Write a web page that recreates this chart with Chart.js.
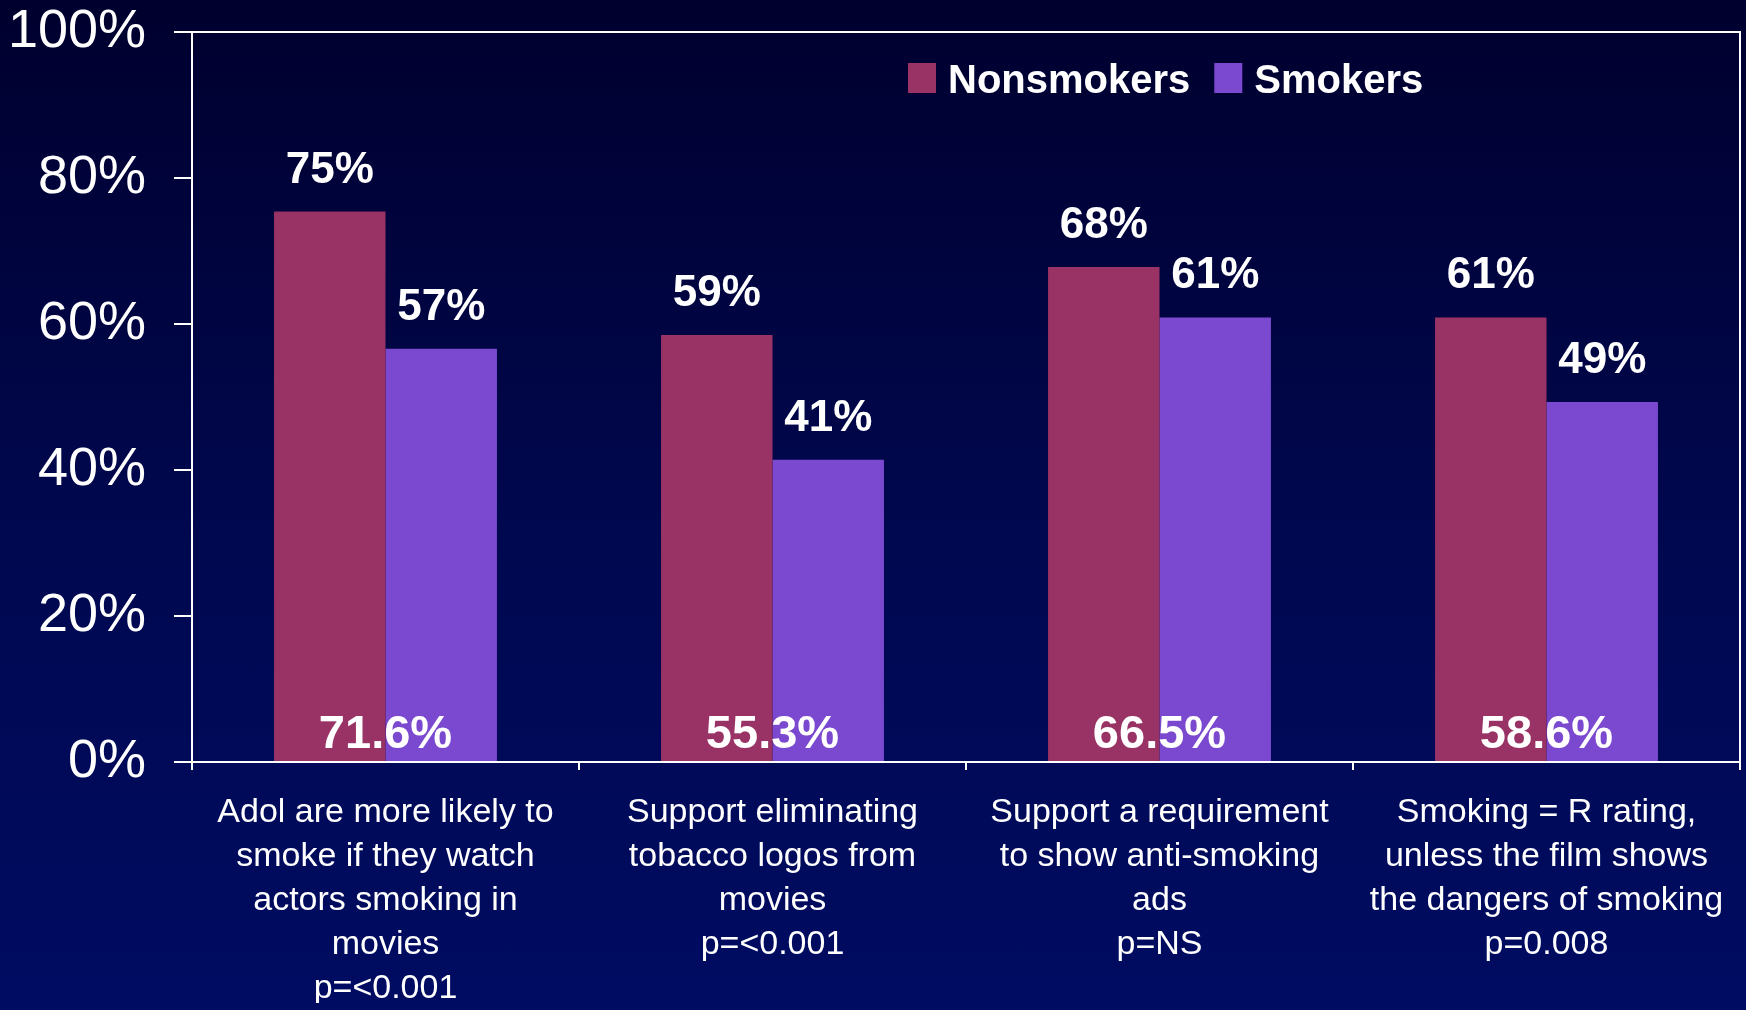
<!DOCTYPE html>
<html lang="en">
<head>
  <meta charset="UTF-8">
  <title>Nonsmokers vs Smokers</title>
  <script src="https://cdn.jsdelivr.net/npm/chart.js"></script>
  <style>
    html, body { margin: 0; padding: 0; }
    body {
      width: 1746px; height: 1010px; overflow: hidden;
      background: linear-gradient(to bottom, #00002e 0%, #000850 55%, #000c62 100%);
    }
    #wrap { width: 1746px; height: 1010px; }
  </style>
</head>
<body>
  <div id="wrap"><canvas id="chart" width="1746" height="1010"></canvas></div>

  <script>
    const categories = [
      ['Adol are more likely to', 'smoke if they watch', 'actors smoking in', 'movies', 'p=<0.001'],
      ['Support eliminating', 'tobacco logos from', 'movies', 'p=<0.001'],
      ['Support a requirement', 'to show anti-smoking', 'ads', 'p=NS'],
      ['Smoking = R rating,', 'unless the film shows', 'the dangers of smoking', 'p=0.008']
    ];
    const nonsmokers = [75.4, 58.5, 67.8, 60.9];
    const smokers = [56.6, 41.4, 60.9, 49.3];
    const nonsmokerLabels = ['75%', '59%', '68%', '61%'];
    const smokerLabels = ['57%', '41%', '61%', '49%'];
    const overallLabels = ['71.6%', '55.3%', '66.5%', '58.6%'];
    const yTicks = [0, 20, 40, 60, 80, 100];

    const FONT = "'Liberation Sans', Arial, sans-serif";
    const WHITE = '#ffffff';

    const extras = {
      id: 'extras',
      afterDatasetsDraw(chart) {
        const ctx = chart.ctx;
        const area = chart.chartArea;
        const x = chart.scales.x, y = chart.scales.y;

        // frame: top and right edges
        ctx.save();
        ctx.strokeStyle = WHITE;
        ctx.lineWidth = 2;
        ctx.beginPath();
        ctx.moveTo(area.left, area.top);
        ctx.lineTo(area.right, area.top);
        ctx.lineTo(area.right, area.bottom);
        ctx.stroke();

        // value labels above bars
        ctx.fillStyle = WHITE;
        ctx.textAlign = 'center';
        ctx.textBaseline = 'alphabetic';
        ctx.font = 'bold 44px ' + FONT;
        [nonsmokerLabels, smokerLabels].forEach((labels, di) => {
          chart.getDatasetMeta(di).data.forEach((bar, i) => {
            ctx.fillText(labels[i], bar.x, bar.y - 29);
          });
        });

        // overall figure at the base of each pair
        ctx.font = 'bold 47px ' + FONT;
        overallLabels.forEach((t, i) => {
          ctx.fillText(t, x.getPixelForValue(i), y.getPixelForValue(0) - 14);
        });

        // legend inside plot, top right
        ctx.font = 'bold 40px ' + FONT;
        ctx.textAlign = 'left';
        let lx = 908;
        chart.data.datasets.forEach((ds) => {
          ctx.fillStyle = ds.backgroundColor;
          ctx.fillRect(lx, 63, 28, 30);
          ctx.fillStyle = WHITE;
          ctx.fillText(ds.label, lx + 40, 93);
          lx += 40 + ctx.measureText(ds.label).width + 24;
        });
        ctx.restore();
      }
    };

    new Chart(document.getElementById('chart'), {
      type: 'bar',
      data: {
        labels: categories,
        datasets: [
          { label: 'Nonsmokers', data: nonsmokers, backgroundColor: '#993366' },
          { label: 'Smokers', data: smokers, backgroundColor: '#7b49cf' }
        ]
      },
      options: {
        responsive: false,
        animation: false,
        layout: { padding: { top: 32, left: 8, right: 6, bottom: 7 } },
        datasets: { bar: { categoryPercentage: 0.576, barPercentage: 1.0 } },
        plugins: { legend: { display: false }, tooltip: { enabled: false } },
        scales: {
          x: {
            afterFit: (scale) => { scale.height = 241; },
            grid: { drawOnChartArea: false, drawTicks: true, tickLength: 8, color: WHITE, lineWidth: 2 },
            border: { color: WHITE, width: 2 },
            ticks: {
              color: WHITE, maxRotation: 0, autoSkip: false, padding: 21,
              font: { family: FONT, size: 34, lineHeight: 1.29 }
            }
          },
          y: {
            min: 0, max: 100,
            afterBuildTicks: (scale) => { scale.ticks = yTicks.map(v => ({ value: v })); },
            afterFit: (scale) => { scale.width = 184; scale.paddingTop = 0; },
            grid: { drawOnChartArea: false, drawTicks: true, tickLength: 18, color: WHITE, lineWidth: 2 },
            border: { color: WHITE, width: 2 },
            ticks: {
              color: WHITE, padding: 28,
              font: { family: FONT, size: 54 },
              callback: (v) => v + '%'
            }
          }
        }
      },
      plugins: [extras]
    });
  </script>
</body>
</html>
